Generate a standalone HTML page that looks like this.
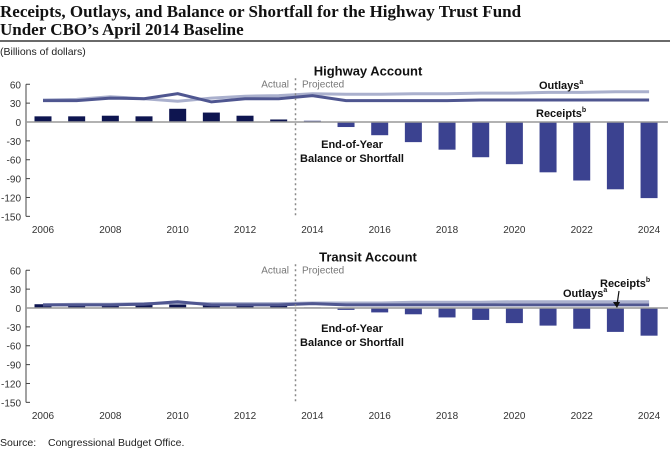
<!DOCTYPE html>
<html><head><meta charset="utf-8">
<style>
html,body{margin:0;padding:0;background:#fff;width:670px;height:449px;overflow:hidden}
svg{display:block}
</style></head>
<body>
<svg id="c" width="670" height="449" xmlns="http://www.w3.org/2000/svg" font-family="Liberation Sans, sans-serif">
<text x="0" y="17" font-family="Liberation Serif, serif" font-weight="bold" font-size="17" fill="#111">Receipts, Outlays, and Balance or Shortfall for the Highway Trust Fund</text>
<text x="0" y="35" font-family="Liberation Serif, serif" font-weight="bold" font-size="17" fill="#111">Under CBO’s April 2014 Baseline</text>
<line x1="0" y1="41" x2="670" y2="41" stroke="#111" stroke-width="1.2"/>
<text x="0" y="55" font-size="10.5" fill="#222">(Billions of dollars)</text>
<text x="0" y="446" font-size="10.5" fill="#222">Source:<tspan x="48">Congressional Budget Office.</tspan></text>
</svg>
<script>
const years=[2006,2007,2008,2009,2010,2011,2012,2013,2014,2015,2016,2017,2018,2019,2020,2021,2022,2023,2024];
const yTicks=[60,30,0,-30,-60,-90,-120,-150];
const xTickLabels=[2006,2008,2010,2012,2014,2016,2018,2020,2022,2024];
const hwBalance=[9,9,10,9,21,15,10,4,2,-8,-21,-32,-44,-56,-67,-80,-93,-107,-121];
const hwOutlays=[35,36,40,37,33,38,41,42,45,44,44,45,45,46,46,47,47,48,48];
const hwReceipts=[34,34,38,37,45,32,37,37,42,34,34,34,34,35,35,35,35,35,35];
const trBalance=[6,7,7,6,6,5,5,5,1,-3,-7,-10,-15,-19,-24,-28,-33,-38,-44];
const trOutlays=[5,6,6,7,8,7,7,7,8,8,8,9,9,9,10,10,10,10,10];
const trReceipts=[5,5,5,6,10,5,5,5,7,5,5,5,5,5,5,5,5,5,5];

const svg=document.getElementById('c');
const NS='http://www.w3.org/2000/svg';
function mk(tag,attrs,parent){const e=document.createElementNS(NS,tag);for(const k in attrs)e.setAttribute(k,attrs[k]);(parent||svg).appendChild(e);return e;}
const xs=y=>43+(y-2006)*33.67;

function panel(p){
  const ys=v=>p.zero-v*0.629;
  const g=mk('g',{});
  
  
  const ax=mk('line',{x1:26,y1:ys(60),x2:26,y2:ys(-150),stroke:'#444','stroke-width':1},g);
  
  
  yTicks.forEach(t=>{
    mk('line',{x1:26,y1:ys(t),x2:30,y2:ys(t),stroke:'#444'},g);
    const tx=mk('text',{x:21,y:ys(t)+4,'text-anchor':'end','font-size':10,fill:'#333'},g);
    tx.textContent=t;
    
    
  });
  xTickLabels.forEach(y=>{
    const tx=mk('text',{x:xs(y),y:p.zero+111,'text-anchor':'middle','font-size':10,fill:'#333'},g);
    tx.textContent=y;
    
    
  });
  years.forEach((y,i)=>{
    const v=p.bal[i];
    const r=mk('rect',{x:xs(y)-8.5,y:Math.min(ys(v),ys(0)),width:17,height:Math.abs(ys(v)-ys(0)),fill:y<=2013?'#0e1550':'#3b4290'},g);
    
    
  });
  const zl=mk('line',{x1:26,y1:ys(0),x2:668,y2:ys(0),stroke:'#999','stroke-width':1.5},g);
  
  
  function line(arr,col,nm){
    const d=arr.map((v,i)=>(i?'L':'M')+xs(years[i]).toFixed(1)+' '+ys(v).toFixed(1)).join(' ');
    const l=mk('path',{d:d,fill:'none',stroke:col,'stroke-width':3},g);
    
    
  }
  line(p.out,'#aab0cd','outlays');
  line(p.rec,'#4f5690','receipts');
  const dv=mk('line',{x1:295.5,y1:ys(60)-6,x2:295.5,y2:ys(-150),stroke:'#888','stroke-width':1.5,'stroke-dasharray':'2,3'},g);
  
  
  const a=mk('text',{x:289,y:ys(60)+3,'text-anchor':'end','font-size':10,fill:'#777'},g);a.textContent='Actual';
  
  const pj=mk('text',{x:302,y:ys(60)+3,'font-size':10,fill:'#777'},g);pj.textContent='Projected';
  
  const t=mk('text',{x:368,y:ys(60)-9,'text-anchor':'middle','font-size':13,'font-weight':'bold',fill:'#111'},g);t.textContent=p.title;
  
  const b1=mk('text',{x:352,y:ys(-30)+p.balOff,'text-anchor':'middle','font-size':11,'font-weight':'bold',fill:'#111'},g);b1.textContent='End-of-Year';
  
  const b2=mk('text',{x:352,y:ys(-30)+p.balOff+14,'text-anchor':'middle','font-size':11,'font-weight':'bold',fill:'#111'},g);b2.textContent='Balance or Shortfall';
  
  const ol=mk('text',{x:p.oX,y:p.oY,'font-size':11,'font-weight':'bold',fill:'#111'},g);
  ol.innerHTML='Outlays<tspan font-size="7" dy="-5">a</tspan>';
  
  const rl=mk('text',{x:p.rX,y:p.rY,'font-size':11,'font-weight':'bold',fill:'#111'},g);
  rl.innerHTML='Receipts<tspan font-size="7" dy="-5">b</tspan>';
  
  if(p.arrow){
    mk('line',{x1:619,y1:p.rY+4,x2:617,y2:p.rY+18,stroke:'#111','stroke-width':1.2},g);
    mk('path',{d:`M613 ${p.rY+15} L617 ${p.rY+21} L620 ${p.rY+15}Z`,fill:'#111'},g);
  }
}
panel({name:'highway',title:'Highway Account',zero:122,bal:hwBalance,out:hwOutlays,rec:hwReceipts,balOff:7,oX:539,oY:89,rX:536,rY:117,arrow:false});
panel({name:'transit',title:'Transit Account',zero:308,bal:trBalance,out:trOutlays,rec:trReceipts,balOff:5,oX:563,oY:297,rX:600,rY:287,arrow:true});
</script>
</body></html>
